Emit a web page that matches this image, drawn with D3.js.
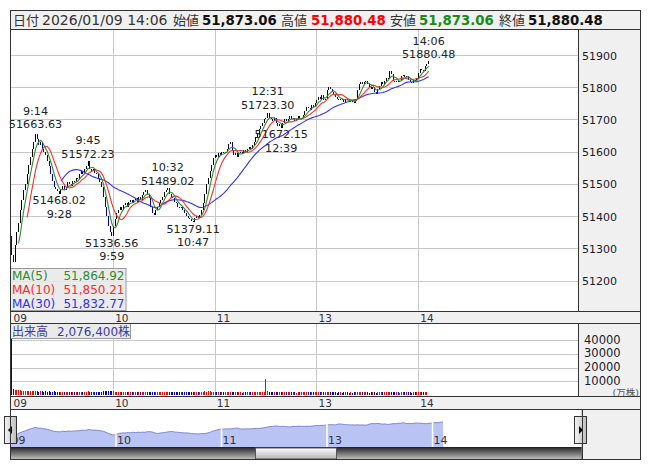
<!DOCTYPE html>
<html><head><meta charset="utf-8">
<script src="https://cdn.jsdelivr.net/npm/d3@7"></script>
<style>
body{margin:0;background:#fff}
svg{display:block}
text{font-family:"DejaVu Sans","Noto Sans CJK JP",sans-serif}
</style>
</head><body>
<svg id="c" width="653" height="470"></svg>
<script>
// ---------------- DATA ----------------
const sessions = [["9:00","11:30"],["12:31","14:06"]];
const firstOpen = 51340;
const closes = [
51280,51258,51310,51350,51380,51420,51450,51480,51500,51530,
51560,51585,51610,51630,51655,51640,51620,51630,51610,51600,
51590,51570,51555,51530,51510,51490,51485,51478,51470,51485,
51495,51480,51490,51505,51500,51495,51510,51505,51520,51515,
51530,51540,51530,51545,51555,51570,51545,51540,51545,51535,
51530,51520,51505,51490,51460,51430,51400,51370,51350,51340,
51370,51390,51410,51420,51430,51420,51435,51440,51430,51445,
51450,51440,51450,51455,51445,51460,51450,51465,51475,51480,
51470,51455,51430,51410,51405,51420,51430,51440,51450,51460,
51475,51480,51487,51470,51460,51455,51445,51440,51430,51425,
51430,51420,51410,51400,51395,51390,51385,51382,51395,51400,
51395,51405,51420,51440,51470,51500,51520,51540,51560,51580,
51590,51585,51595,51590,51600,51595,51600,51610,51625,51630,
51605,51590,51595,51585,51595,51600,51595,51605,51600,51610,
51615,51610,51620,51630,51645,51655,51670,51680,51690,51700,
51705,
51720,51705,51700,51695,51705,51690,51680,51685,51675,51690,
51700,51695,51700,51710,51700,51705,51695,51700,51710,51700,
51705,51715,51725,51740,51735,51730,51745,51740,51750,51760,
51770,51765,51775,51760,51765,51790,51800,51795,51785,51775,
51770,51765,51760,51765,51760,51755,51765,51760,51755,51760,
51755,51750,51765,51790,51810,51815,51810,51815,51820,51810,
51800,51795,51800,51785,51780,51795,51805,51815,51810,51820,
51830,51830,51850,51840,51820,51815,51820,51815,51820,51835,
51837,51833,51835,51824,51815,51812,51824,51822,51830,51845,
51856.5,51855,51851.06,51865,51873.06,51880.48
];
const volumes = [
40800,4200,3800,3500,3300,3600,3200,3000,3100,2900,
2800,2700,2900,2600,3000,2800,2500,2700,2600,2400,
2600,2500,2700,2400,2300,2600,2500,2200,2400,2300,
2500,2200,2300,2400,2100,2300,2200,2500,2300,2100,
2200,2400,2300,2100,2200,2600,2300,2200,2100,2300,
2200,2100,2300,2500,2700,2600,2800,2700,2900,2800,
2600,2500,2400,2300,2200,2400,2300,2100,2200,2300,
2100,2200,2000,2300,2100,2200,2000,2100,2300,2200,
2100,2300,2400,2200,2100,2000,2200,2100,2300,2200,
2100,2300,2200,2100,2000,2200,2100,2000,1900,2100,
2000,2100,1900,2000,2100,1900,2000,2200,2100,2000,
1900,2100,2200,2400,2600,2500,2700,2600,2400,2300,
2200,2100,2000,2100,1900,2000,2100,1900,2200,2100,
2000,1900,2100,2000,1900,2000,1800,1900,2000,1900,
2000,1900,2100,2000,2200,2100,2300,2200,2100,2300,
12000,
2800,2400,2300,2200,2100,2300,2200,2000,2100,2200,
2100,2000,1900,2100,2000,1900,2000,1800,1900,2000,
1900,2100,2000,2200,2100,2000,2100,1900,2000,2100,
2000,1900,2100,2000,1900,2200,2100,2000,1900,2000,
1900,1800,2000,1900,1800,1900,2000,1900,1800,1900,
1800,1900,2000,2200,2300,2100,2000,1900,2000,1900,
1800,1900,2000,1900,1800,2000,2100,2000,1900,2000,
2100,2000,2200,2100,2000,1900,2000,1900,1800,2000,
2100,2000,1900,2000,1900,1800,1900,2000,2100,2000,
2200,2300,2100,2200,2300,207.64
];
const priceTicks = [51200,51300,51400,51500,51600,51700,51800,51900];
const volTicks = [10000,20000,30000,40000];
const hourLabels = ["09","10","11","13","14"];
const maPeriods = [5,10,30];
const maColors = ["#2e8b2e","#ff2a2a","#3030ff"];
const annotations = [
  {t:"9:14", v:51663.63, type:"high"},
  {t:"9:28", v:51468.02, type:"low"},
  {t:"9:45", v:51572.23, type:"high"},
  {t:"9:59", v:51336.56, type:"low"},
  {t:"10:32", v:51489.02, type:"high"},
  {t:"10:47", v:51379.11, type:"low"},
  {t:"12:31", v:51723.30, type:"high"},
  {t:"12:39", v:51672.15, type:"low"},
  {t:"14:06", v:51880.48, type:"high"}
];
const dateLabel = "2026/01/09";

// ---------------- BUILD ----------------
function toMin(s){const p=s.split(":").map(Number);return p[0]*60+p[1];}
const times=[];
sessions.forEach(([a,b])=>{for(let m=toMin(a);m<=toMin(b);m++) times.push(Math.floor(m/60)+":"+String(m%60).padStart(2,"0"));});
const N = closes.length;
const opens = closes.map((c,i)=> i===0 ? firstOpen : closes[i-1]);
const hourIdx = times.map((t,i)=>t.endsWith(":00")?i:-1).filter(i=>i>=0);

function movingAvg(p){return closes.map((c,i)=> i<p-1?null: d3.mean(closes.slice(i-p+1,i+1)));}
const mas = maPeriods.map(movingAvg);

const svg = d3.select("#c");
const fmt2 = d3.format(",.2f");

const L=10.5, R=640.5, PR=578.5;
const HT=10.5, HB=29.5, MB=311.5, SB=323.5, VB=396.5, VSB=409.5, NB=447.5, SCB=459.5;

const x = d3.scaleLinear().domain([0,335]).range([11.3,579]);
const y = d3.scaleLinear().domain([51200,51900]).range([280.7,55]);
const vy = d3.scaleLinear().domain([0,40000]).range([395,340]);

const defs = svg.append("defs");
defs.append("clipPath").attr("id","mainClip").append("rect").attr("x",L).attr("y",HB).attr("width",PR-L).attr("height",MB-HB);
defs.append("clipPath").attr("id","volClip").append("rect").attr("x",L).attr("y",SB).attr("width",PR-L).attr("height",VB-SB);
const g1=defs.append("linearGradient").attr("id","scrollG").attr("x1",0).attr("y1",0).attr("x2",0).attr("y2",1);
g1.append("stop").attr("offset","0%").attr("stop-color","#2a2a2a");
g1.append("stop").attr("offset","45%").attr("stop-color","#6e6e6e");
g1.append("stop").attr("offset","100%").attr("stop-color","#c4c4c4");
const g2=defs.append("linearGradient").attr("id","thumbG").attr("x1",0).attr("y1",0).attr("x2",0).attr("y2",1);
g2.append("stop").attr("offset","0%").attr("stop-color","#ffffff");
g2.append("stop").attr("offset","100%").attr("stop-color","#b4b4b4");
const g3=defs.append("linearGradient").attr("id","btnG").attr("x1",0).attr("y1",0).attr("x2",1).attr("y2",0);
g3.append("stop").attr("offset","0%").attr("stop-color","#f4f4f4");
g3.append("stop").attr("offset","100%").attr("stop-color","#bdbdbd");

// panels backgrounds
svg.append("rect").attr("x",L).attr("y",HT).attr("width",R-L).attr("height",HB-HT).attr("fill","#f0f0f0").attr("stroke","#333");
svg.append("rect").attr("x",L).attr("y",HB).attr("width",PR-L).attr("height",MB-HB).attr("fill","#fff");
svg.append("rect").attr("x",PR).attr("y",HB).attr("width",R-PR).attr("height",MB-HB).attr("fill","#f0f0f0");
svg.append("rect").attr("x",L).attr("y",MB).attr("width",R-L).attr("height",SB-MB).attr("fill","#f0f0f0");
svg.append("rect").attr("x",L).attr("y",SB).attr("width",PR-L).attr("height",VB-SB).attr("fill","#fff");
svg.append("rect").attr("x",PR).attr("y",SB).attr("width",R-PR).attr("height",VB-SB).attr("fill","#f0f0f0");
svg.append("rect").attr("x",L).attr("y",VB).attr("width",R-L).attr("height",VSB-VB).attr("fill","#f0f0f0");

// header
const hy=24.5;
const hdr=[
 {x:13,t:"日付",s:13,w:"normal",c:"#333"},
 {x:42,t:dateLabel+" "+times[N-1],s:14,w:"normal",c:"#333"},
 {x:173,t:"始値",s:13,w:"normal",c:"#333"},
 {x:202,t:fmt2(opens[N-1]),s:13.3,w:"bold",c:"#111"},
 {x:281,t:"高値",s:13,w:"normal",c:"#333"},
 {x:311,t:fmt2(Math.max(opens[N-1],closes[N-1])),s:13.3,w:"bold",c:"#ff0000"},
 {x:390,t:"安値",s:13,w:"normal",c:"#333"},
 {x:419,t:fmt2(Math.min(opens[N-1],closes[N-1])),s:13.3,w:"bold",c:"#1a8a1a"},
 {x:499,t:"終値",s:13,w:"normal",c:"#333"},
 {x:528,t:fmt2(closes[N-1]),s:13.3,w:"bold",c:"#111"}
];
svg.append("g").selectAll("text").data(hdr).join("text")
 .attr("x",d=>d.x).attr("y",hy).attr("font-size",d=>d.s).attr("font-weight",d=>d.w).attr("fill",d=>d.c).text(d=>d.t);

// main grid
const grid=svg.append("g").attr("stroke","#c8c8c8").attr("stroke-width",1).attr("shape-rendering","crispEdges");
grid.selectAll(".h").data(priceTicks).join("line").attr("x1",L).attr("x2",PR).attr("y1",d=>Math.round(y(d))+0.5).attr("y2",d=>Math.round(y(d))+0.5);
grid.selectAll(".v").data(hourIdx.filter(i=>i>0)).join("line").attr("class","v").attr("y1",HB).attr("y2",MB).attr("x1",d=>Math.round(x(d))+0.5).attr("x2",d=>Math.round(x(d))+0.5);
// price axis labels
svg.append("g").selectAll("text").data(priceTicks).join("text")
 .attr("x",582).attr("y",d=>y(d)+4.5).attr("font-size",11).attr("fill","#1a1a2a").text(d=>d);

// candles
const cg=svg.append("g").attr("clip-path","url(#mainClip)").attr("shape-rendering","crispEdges");
cg.selectAll("rect").data(closes).join("rect")
 .attr("x",(d,i)=>Math.round(x(i)))
 .attr("width",1)
 .attr("y",(d,i)=>Math.min(y(opens[i]),y(d)))
 .attr("height",(d,i)=>Math.max(1,Math.abs(y(opens[i])-y(d))))
 .attr("fill",(d,i)=> d<opens[i] ? "#0000a0" : "#000");

// MA lines
const mg=svg.append("g").attr("clip-path","url(#mainClip)");
[2,1,0].forEach(k=>{
  mg.append("path").datum(mas[k]).attr("fill","none").attr("stroke",maColors[k]).attr("stroke-width",1.1)
   .attr("d",d3.line().defined(d=>d!==null).x((d,i)=>x(i)+0.5).y(d=>y(d)));
});

// annotations
const ag=svg.append("g").attr("font-size",11.2).attr("fill","#222").attr("text-anchor","middle");
annotations.forEach(a=>{
  const i=times.indexOf(a.t); const cx=x(i)+0.5, cy=y(a.v);
  const val=a.v.toFixed(2);
  if(a.type==="high"){
    ag.append("text").attr("x",cx).attr("y",cy-16.5).text(a.t);
    ag.append("text").attr("x",cx).attr("y",cy-3).text(val);
  } else {
    ag.append("text").attr("x",cx).attr("y",cy+10).text(val);
    ag.append("text").attr("x",cx).attr("y",cy+23.5).text(a.t);
  }
});

// MA legend
const lg=svg.append("g");
lg.append("rect").attr("x",L).attr("y",268.5).attr("width",115.5).attr("height",42).attr("fill","rgba(232,232,232,0.85)").attr("stroke","#9a9a9a");
maPeriods.forEach((p,k)=>{
  lg.append("text").attr("x",12).attr("y",280+k*14).attr("font-size",12).attr("fill",maColors[k]).text("MA("+p+")");
  lg.append("text").attr("x",124.5).attr("y",280+k*14).attr("font-size",12).attr("fill",maColors[k]).attr("text-anchor","end").text(fmt2(mas[k][N-1]));
});

// time strips labels
function stripLabels(yy){
  svg.append("g").selectAll("text").data(hourIdx).join("text")
   .attr("x",d=>x(d)+2.2).attr("y",yy).attr("font-size",10.5).attr("fill","#333").text((d,k)=>hourLabels[k]);
}
stripLabels(321.5);
stripLabels(406.5);

// volume grid
const vgrid=svg.append("g").attr("stroke","#c8c8c8").attr("shape-rendering","crispEdges");
vgrid.selectAll(".h").data(volTicks).join("line").attr("x1",L).attr("x2",PR).attr("y1",d=>Math.round(vy(d))+0.5).attr("y2",d=>Math.round(vy(d))+0.5);
vgrid.selectAll(".v").data(hourIdx.filter(i=>i>0)).join("line").attr("class","v").attr("y1",SB).attr("y2",VB).attr("x1",d=>Math.round(x(d))+0.5).attr("x2",d=>Math.round(x(d))+0.5);
svg.append("g").selectAll("text").data(volTicks).join("text")
 .attr("x",584).attr("y",d=>vy(d)+3.5).attr("font-size",11.5).attr("fill","#1a1a2a").text(d=>d);
svg.append("text").attr("x",639).attr("y",396.2).attr("text-anchor","end").attr("font-size",9.5).attr("fill","#555").text("(万株)");

// volume bars
const vg=svg.append("g").attr("clip-path","url(#volClip)").attr("shape-rendering","crispEdges");
vg.selectAll("rect").data(volumes).join("rect")
 .attr("x",(d,i)=>Math.round(x(i))).attr("width",1)
 .attr("y",d=>vy(d)).attr("height",d=>Math.max(0,vy(0)-vy(d)))
 .attr("fill",(d,i)=> closes[i]<opens[i] ? "#0000cc" : "#ff0000");

// volume label
svg.append("rect").attr("x",L).attr("y",SB).attr("width",120).attr("height",15).attr("fill","rgba(232,232,232,0.9)").attr("stroke","#9a9a9a");
svg.append("text").attr("x",12).attr("y",SB+12).attr("font-size",12).attr("fill","#3a3aa8").text("出来高");
svg.append("text").attr("x",57).attr("y",SB+12).attr("font-size",12).attr("fill","#3a3aa8").text(d3.format(",")(Math.round(volumes[N-1]*10000))+"株");

// navigator
const NT=409.5;
const nx=d3.scaleLinear().domain([0,325]).range([10.5,582]);
const ny=d3.scaleLinear().domain([50840,52340]).range([447,411]);
svg.append("rect").attr("x",L).attr("y",NT).attr("width",582-L).attr("height",NB-NT).attr("fill","#fff");
svg.append("rect").attr("x",582).attr("y",NT).attr("width",R-582).attr("height",SCB-NT).attr("fill","#f0f0f0");
svg.append("path").datum(closes).attr("fill","#b9c4f4")
 .attr("d",d3.area().x((d,i)=>nx(i)).y0(NB).y1(d=>ny(d)));
svg.append("path").datum(closes).attr("fill","none").attr("stroke","#7f86cf").attr("stroke-width",1)
 .attr("d",d3.line().x((d,i)=>nx(i)).y(d=>ny(d)));
svg.append("g").selectAll("line").data(hourIdx.filter(i=>i>0)).join("line")
 .attr("x1",d=>nx(d)).attr("x2",d=>nx(d)).attr("y1",NT).attr("y2",NB).attr("stroke","#fff").attr("stroke-width",1.5);
svg.append("g").selectAll("text").data(hourIdx).join("text")
 .attr("x",d=>nx(d)+1).attr("y",444).attr("font-family","'Liberation Serif',serif").attr("font-size",11).attr("fill","#333").text((d,k)=>hourLabels[k]);
// scrollbar
svg.append("rect").attr("x",L).attr("y",NB).attr("width",582-L).attr("height",SCB-NB).attr("fill","url(#scrollG)").attr("stroke","#222");
svg.append("rect").attr("x",255.5).attr("y",NB+0.5).attr("width",81).attr("height",SCB-NB-1).attr("fill","url(#thumbG)").attr("stroke","#555");
// range edges
svg.append("line").attr("x1",L).attr("x2",L).attr("y1",NT).attr("y2",SCB).attr("stroke","#3cc0e0");
svg.append("line").attr("x1",582).attr("x2",582).attr("y1",NT).attr("y2",SCB).attr("stroke","#3cc0e0");
// buttons
[[4.5,-1],[574.5,1]].forEach(([bx,dir])=>{
  svg.append("rect").attr("x",bx).attr("y",416.5).attr("width",12).attr("height",27).attr("fill","url(#btnG)").attr("stroke","#333");
  const cx=bx+6, cy=430;
  svg.append("path").attr("d", dir<0? `M${cx-2.5},${cy} L${cx+1.5},${cy-4} L${cx+1.5},${cy+4}Z` : `M${cx+2.5},${cy} L${cx-1.5},${cy-4} L${cx-1.5},${cy+4}Z`).attr("fill","#000");
});

// frame lines
const fr=svg.append("g").attr("stroke","#333").attr("fill","none").attr("shape-rendering","crispEdges");
fr.append("rect").attr("x",L).attr("y",HB).attr("width",R-L).attr("height",SCB-HB);
[MB,SB,VB,VSB].forEach(yy=>fr.append("line").attr("x1",L).attr("x2",R).attr("y1",yy).attr("y2",yy));
fr.append("line").attr("x1",PR).attr("x2",PR).attr("y1",HB).attr("y2",MB);
fr.append("line").attr("x1",PR).attr("x2",PR).attr("y1",SB).attr("y2",VB);
fr.append("line").attr("x1",582).attr("x2",582).attr("y1",NT).attr("y2",SCB);
</script>
</body></html>
